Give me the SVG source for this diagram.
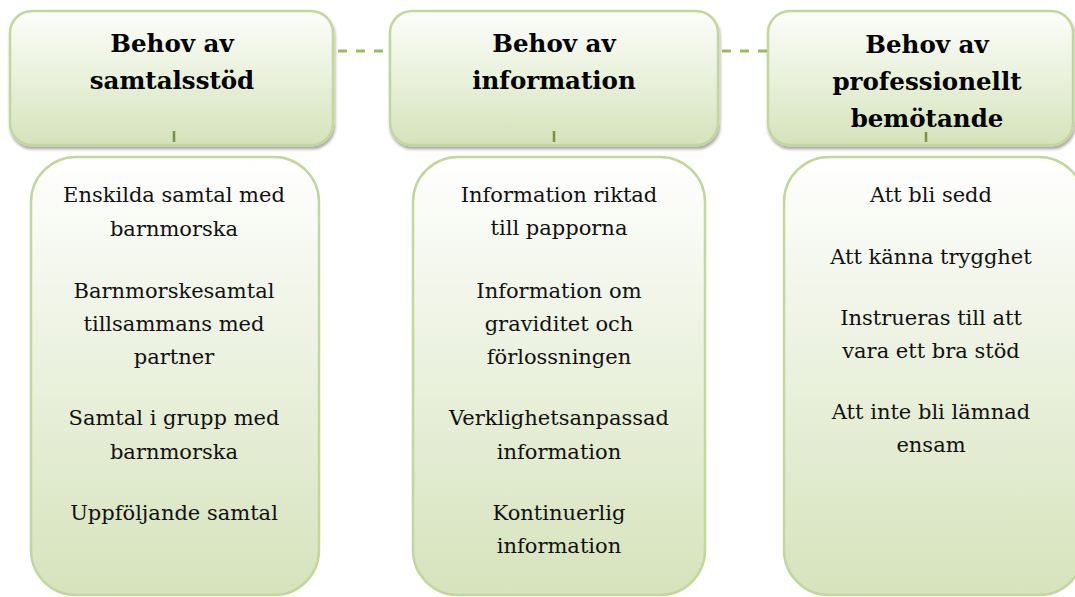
<svg xmlns="http://www.w3.org/2000/svg" width="1075" height="597" viewBox="0 0 1075 597">
<defs>
<linearGradient id="hg" x1="0" y1="0" x2="0" y2="1">
<stop offset="0" stop-color="#FCFDFA"/>
<stop offset="0.45" stop-color="#EBF2DE"/>
<stop offset="1" stop-color="#D5E3BB"/>
</linearGradient>
<linearGradient id="bg" x1="0" y1="0" x2="0" y2="1">
<stop offset="0" stop-color="#FFFFFF"/>
<stop offset="0.3" stop-color="#F2F6EA"/>
<stop offset="1" stop-color="#D6E3BC"/>
</linearGradient>
<filter id="sh" x="-5%" y="-5%" width="110%" height="115%">
<feGaussianBlur in="SourceAlpha" stdDeviation="1.5"/>
<feOffset dx="1" dy="3"/>
<feComponentTransfer><feFuncA type="linear" slope="0.35"/></feComponentTransfer>
<feMerge><feMergeNode/><feMergeNode in="SourceGraphic"/></feMerge>
</filter>
</defs>
<style>
.hdr{fill:url(#hg);stroke:#C3D69B;stroke-width:2.5}
.box{fill:url(#bg);stroke:#C3D69B;stroke-width:2.5}
.ht{font-family:"DejaVu Serif","Liberation Serif",serif;font-weight:bold;font-size:24.5px;fill:#000;text-anchor:middle}
.bt{font-family:"DejaVu Serif","Liberation Serif",serif;font-size:21px;fill:#111;text-anchor:middle}
.dash{stroke:#9BBB59;stroke-width:3;stroke-dasharray:9 9;fill:none}
.tick{stroke:#77933C;stroke-width:2.5}
</style>
<g id="connectors">
<line class="dash" x1="338" y1="51" x2="388" y2="51"/>
<line class="dash" x1="722" y1="51" x2="768" y2="51"/>
</g>
<g id="header1">
<rect class="hdr" x="10" y="11" width="323" height="134" rx="22" filter="url(#sh)"/>
<text class="ht" x="172" y="52">Behov av</text>
<text class="ht" x="172" y="89">samtalsstöd</text>
<line class="tick" x1="174" y1="131" x2="174" y2="142"/>
</g>
<g id="header2">
<rect class="hdr" x="390" y="11" width="328" height="134" rx="22" filter="url(#sh)"/>
<text class="ht" x="554" y="52">Behov av</text>
<text class="ht" x="554" y="89">information</text>
<line class="tick" x1="554" y1="131" x2="554" y2="142"/>
</g>
<g id="header3">
<rect class="hdr" x="768" y="11" width="305" height="134" rx="22" filter="url(#sh)"/>
<text class="ht" x="927" y="53">Behov av</text>
<text class="ht" x="927" y="90">professionellt</text>
<text class="ht" x="927" y="127">bemötande</text>
<line class="tick" x1="926" y1="132" x2="926" y2="142"/>
</g>
<g id="box1">
<rect class="box" x="31" y="157" width="288" height="438" rx="45"/>
<text class="bt" x="174" y="202">Enskilda samtal med</text>
<text class="bt" x="174" y="236">barnmorska</text>
<text class="bt" x="174" y="298">Barnmorskesamtal</text>
<text class="bt" x="174" y="331">tillsammans med</text>
<text class="bt" x="174" y="364">partner</text>
<text class="bt" x="174" y="425">Samtal i grupp med</text>
<text class="bt" x="174" y="459">barnmorska</text>
<text class="bt" x="174" y="520">Uppföljande samtal</text>
</g>
<g id="box2">
<rect class="box" x="413" y="157" width="292" height="438" rx="45"/>
<text class="bt" x="559" y="202">Information riktad</text>
<text class="bt" x="559" y="235">till papporna</text>
<text class="bt" x="559" y="298">Information om</text>
<text class="bt" x="559" y="331">graviditet och</text>
<text class="bt" x="559" y="364">förlossningen</text>
<text class="bt" x="559" y="425">Verklighetsanpassad</text>
<text class="bt" x="559" y="459">information</text>
<text class="bt" x="559" y="520">Kontinuerlig</text>
<text class="bt" x="559" y="553">information</text>
</g>
<g id="box3">
<rect class="box" x="784" y="157" width="300" height="438" rx="45"/>
<text class="bt" x="931" y="202">Att bli sedd</text>
<text class="bt" x="931" y="264">Att känna trygghet</text>
<text class="bt" x="931" y="325">Instrueras till att</text>
<text class="bt" x="931" y="358">vara ett bra stöd</text>
<text class="bt" x="931" y="419">Att inte bli lämnad</text>
<text class="bt" x="931" y="452">ensam</text>
</g>
</svg>
